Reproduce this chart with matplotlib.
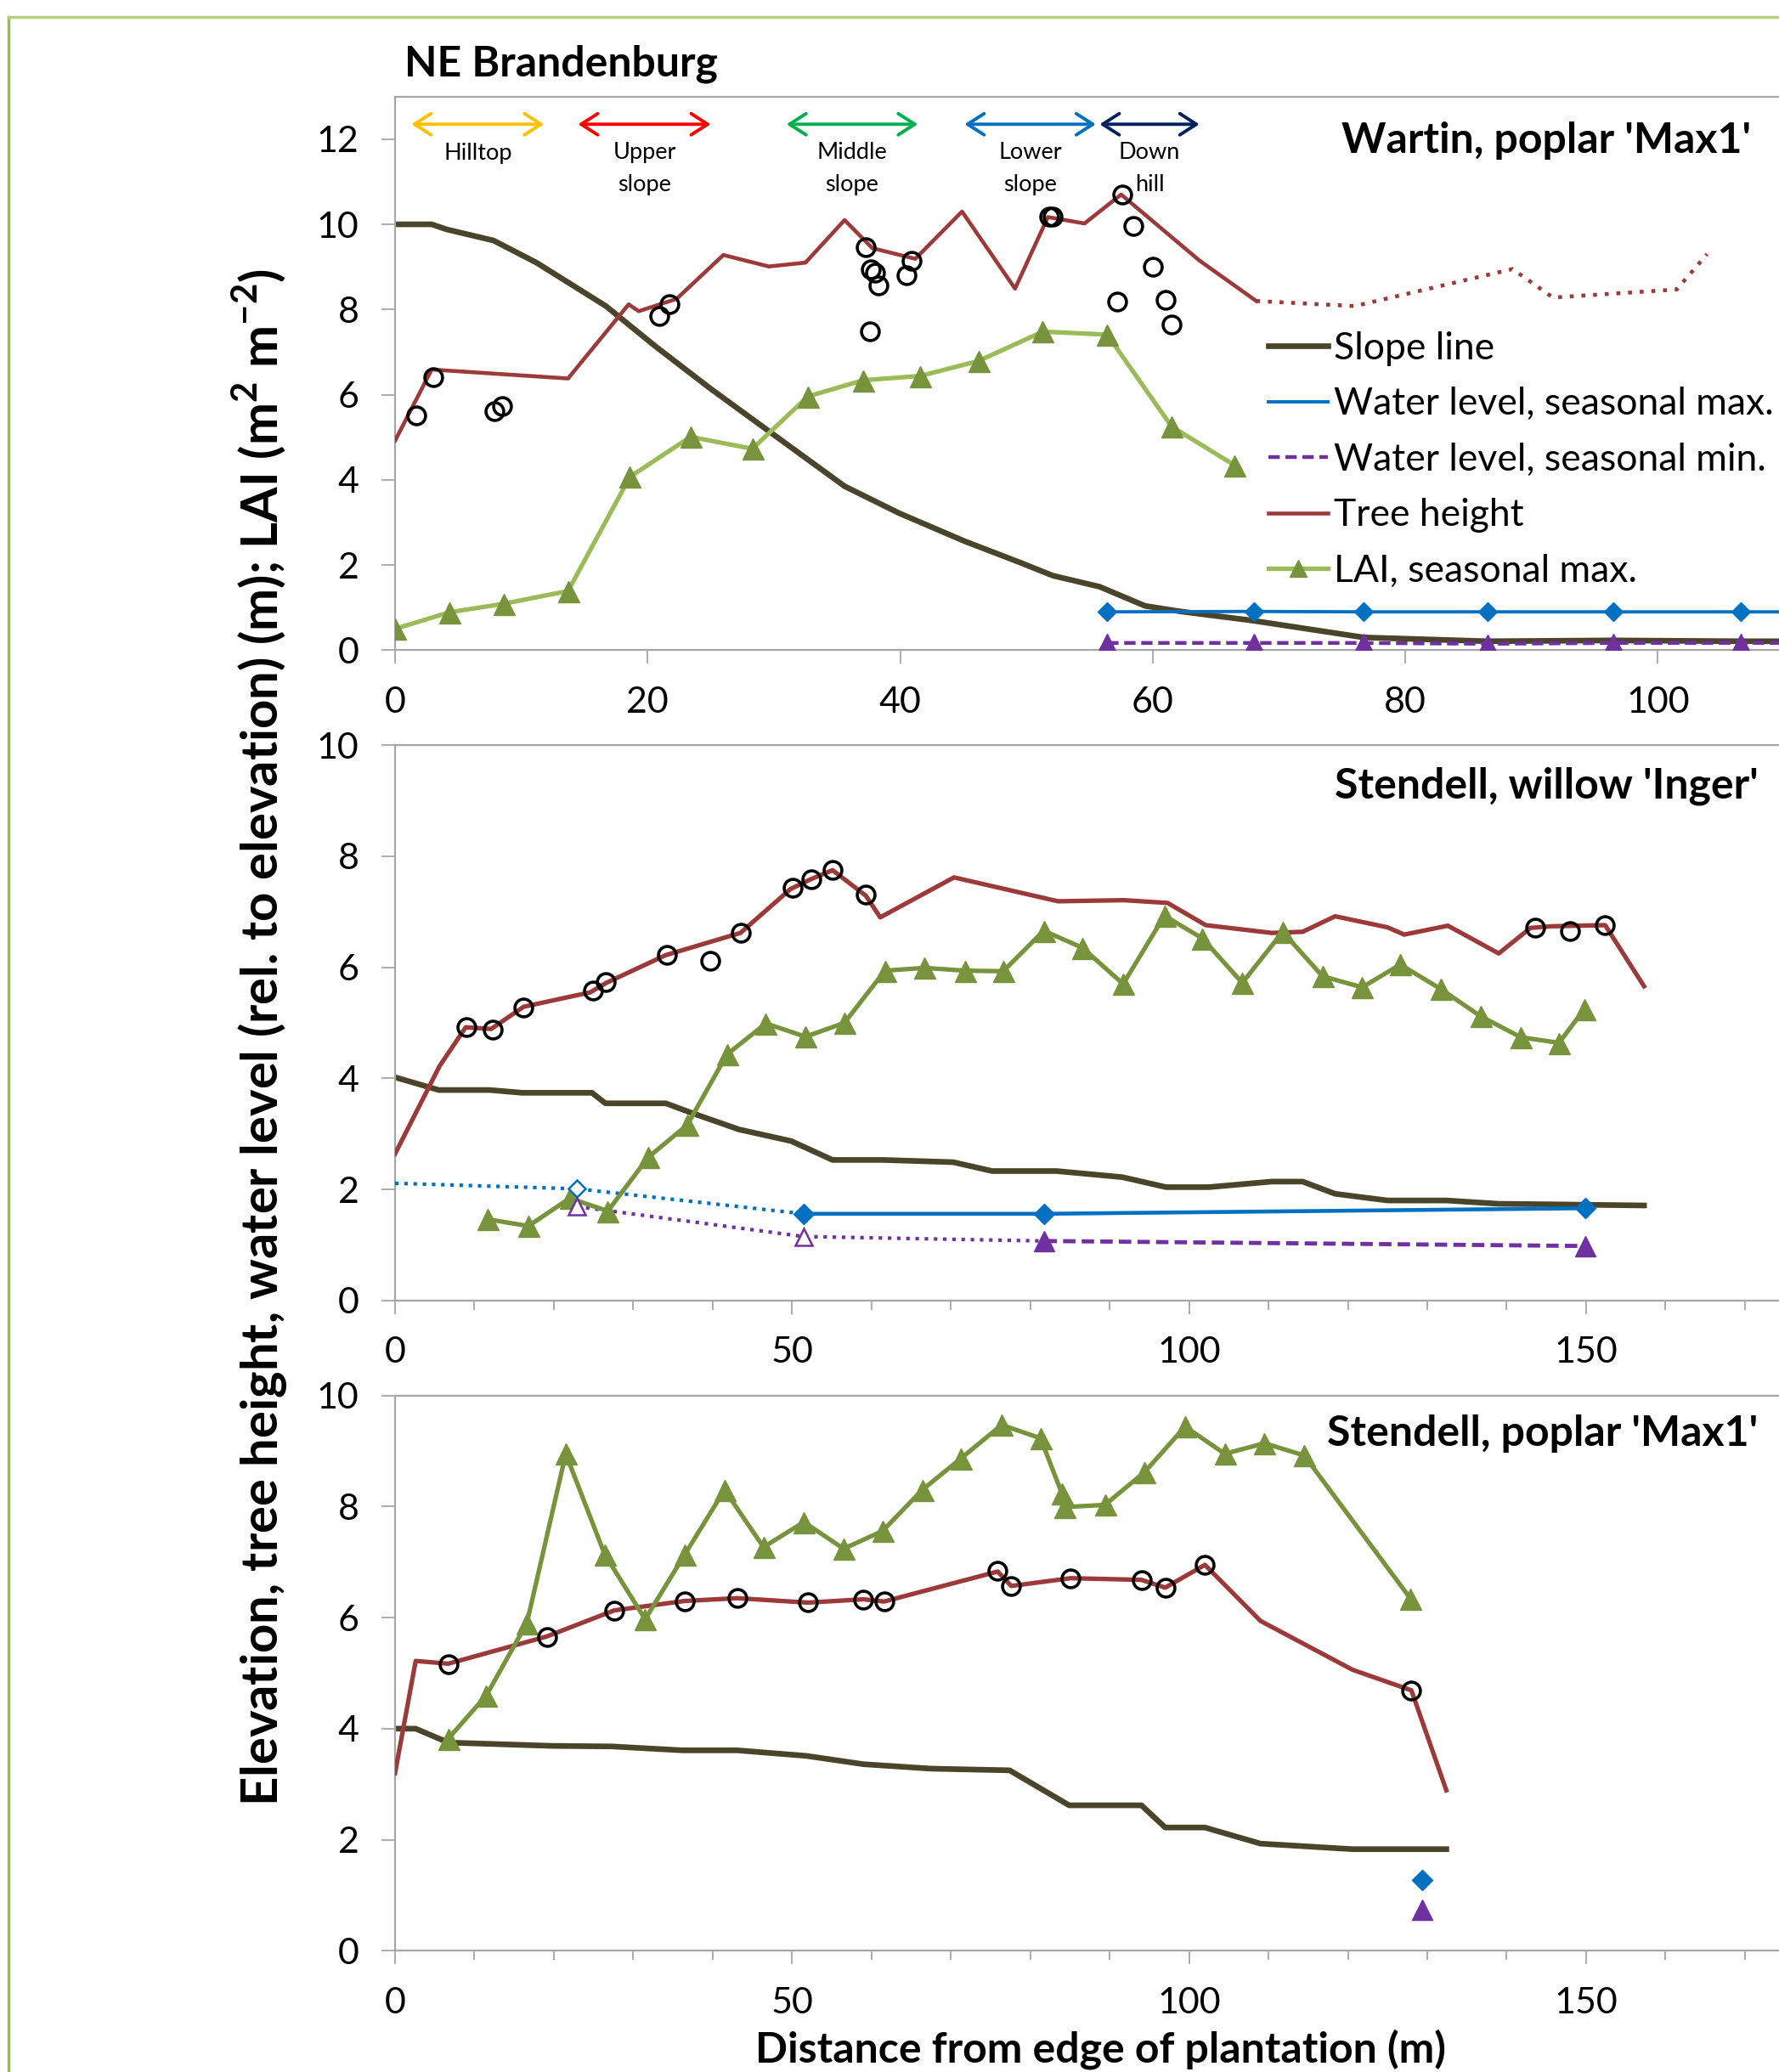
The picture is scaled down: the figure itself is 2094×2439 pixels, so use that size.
import matplotlib
matplotlib.use("Agg")
import matplotlib.pyplot as plt
from matplotlib.lines import Line2D

plt.rcParams['font.family'] = ['Lato', 'DejaVu Sans']
plt.rcParams['mathtext.fontset'] = 'custom'
plt.rcParams['mathtext.rm'] = 'Lato'
plt.rcParams['mathtext.bf'] = 'Lato:bold'

# ---------------- Wartin, poplar 'Max1' ----------------
slope1_x = [0, 2.9, 4.1, 7.8, 11.2, 16.7, 20.6, 24.9, 29.2, 35.6, 39.9, 45.1, 49.4, 52.1, 55.8,
            59.4, 62.2, 67.8, 76.7, 86.5, 96.5, 106.6, 112]
slope1_y = [10.0, 10.0, 9.88, 9.62, 9.10, 8.08, 7.14, 6.16, 5.23, 3.85, 3.22, 2.56, 2.07, 1.75, 1.49,
            1.04, 0.91, 0.70, 0.30, 0.21, 0.23, 0.21, 0.21]

height1_x = [0, 2.9, 13.7, 18.5, 19.3, 22.3, 26.0, 29.6, 32.5, 35.6, 37.8, 41.2, 44.9, 49.1, 51.7,
             54.6, 57.5, 63.7, 68.2]
height1_y = [4.92, 6.59, 6.38, 8.12, 7.96, 8.25, 9.28, 9.01, 9.10, 10.10, 9.44, 9.19, 10.30, 8.49, 10.17,
             10.02, 10.70, 9.15, 8.20]
# extrapolated part (dotted)
height1b_x = [68.2, 76.0, 88.5, 91.7, 101.5, 103.9]
height1b_y = [8.20, 8.08, 8.95, 8.28, 8.47, 9.30]

trees1_x = [1.7, 3.0, 7.9, 8.5, 20.9, 21.7, 37.3, 37.7, 38.0, 38.3, 37.6, 40.5, 40.9, 51.8, 52.1,
            57.6, 58.5, 60.0, 57.2, 61.0, 61.5]
trees1_y = [5.52, 6.41, 5.61, 5.74, 7.84, 8.12, 9.47, 8.94, 8.86, 8.57, 7.48, 8.81, 9.15, 10.19, 10.19,
            10.69, 9.96, 9.01, 8.19, 8.23, 7.64]

lai1_x = [0, 4.3, 8.6, 13.7, 18.6, 23.4, 28.3, 32.7, 37.1, 41.6, 46.2, 51.3, 56.4, 61.5, 66.5]
lai1_y = [0.50, 0.89, 1.09, 1.39, 4.07, 5.01, 4.73, 5.96, 6.34, 6.44, 6.79, 7.48, 7.41, 5.25, 4.34]

wl1_x = [56.4, 68.0, 76.7, 86.5, 96.5, 106.6, 112]
wlmax1_y = [0.90, 0.91, 0.90, 0.90, 0.90, 0.90, 0.90]
wlmin1_y = [0.17, 0.17, 0.17, 0.15, 0.17, 0.17, 0.17]

zones = ['Hilltop', 'Upper\nslope', 'Middle\nslope', 'Lower\nslope', 'Down\nhill']
zone_start = [1.3, 14.5, 31.0, 45.1, 55.8]
zone_end = [11.8, 25.0, 41.4, 55.5, 63.7]
zone_colors = ['#ffc000', '#ff0000', '#00b050', '#0070c0', '#002060']

# ---------------- Stendell, willow 'Inger' ----------------
slope2_x = [0, 5.5, 11.9, 16.0, 24.8, 26.5, 34.1, 37.5, 43.3, 49.9, 55.1, 61.4, 70.3, 75.2, 83.3,
            91.6, 97.1, 102.5, 110.4, 114.3, 118.4, 125.0, 132.4, 139.0, 145.7, 157.3]
slope2_y = [4.02, 3.79, 3.79, 3.74, 3.74, 3.55, 3.55, 3.37, 3.08, 2.87, 2.53, 2.53, 2.49, 2.33, 2.33,
            2.22, 2.04, 2.04, 2.14, 2.14, 1.92, 1.80, 1.80, 1.74, 1.73, 1.71]

height2_x = [0, 5.6, 8.9, 12.1, 16.2, 24.6, 26.6, 34.1, 43.5, 49.8, 52.4, 55.1, 59.3, 61.1, 70.4,
             83.5, 91.8, 97.3, 102.1, 110.4, 114.3, 118.4, 125.0, 127.1, 132.6, 139.0, 143.0, 145.7,
             152.4, 157.3]
height2_y = [2.64, 4.22, 4.92, 4.89, 5.29, 5.55, 5.72, 6.22, 6.62, 7.41, 7.59, 7.75, 7.29, 6.90, 7.62,
             7.19, 7.21, 7.16, 6.76, 6.62, 6.64, 6.92, 6.72, 6.59, 6.75, 6.25, 6.71, 6.74,
             6.76, 5.66]

trees2_x = [9.0, 12.3, 16.2, 24.9, 26.5, 34.2, 39.7, 43.5, 50.1, 52.4, 55.1, 59.3, 143.6, 148.0, 152.4]
trees2_y = [4.93, 4.88, 5.28, 5.58, 5.74, 6.22, 6.12, 6.62, 7.43, 7.59, 7.76, 7.31, 6.71, 6.66, 6.76]

lai2_x = [11.7, 16.8, 22.0, 26.8, 31.9, 36.8, 41.8, 46.7, 51.7, 56.6, 61.7, 66.7, 71.8, 76.6, 81.7,
          86.6, 91.7, 96.9, 101.7, 106.7, 111.8, 116.8, 121.8, 126.6, 131.7, 136.7, 141.8, 146.6, 149.8]
lai2_y = [1.46, 1.34, 1.84, 1.61, 2.58, 3.16, 4.43, 4.99, 4.75, 5.00, 5.94, 5.99, 5.94, 5.93, 6.66,
          6.35, 5.70, 6.93, 6.52, 5.72, 6.64, 5.84, 5.64, 6.05, 5.61, 5.12, 4.74, 4.64, 5.25]

# water levels: dotted = estimated, solid/dashed = measured
wlmax2a_x = [0, 22.9, 51.5]
wlmax2a_y = [2.11, 2.01, 1.56]
wlmax2b_x = [51.5, 81.8, 149.9]
wlmax2b_y = [1.56, 1.56, 1.66]
wlmin2a_x = [22.9, 51.5, 81.8]
wlmin2a_y = [1.69, 1.15, 1.07]
wlmin2b_x = [81.8, 149.9]
wlmin2b_y = [1.07, 0.98]

# ---------------- Stendell, poplar 'Max1' ----------------
slope3_x = [0, 2.6, 6.7, 19.8, 27.3, 36.2, 43.1, 51.8, 59.0, 67.5, 77.4, 84.9, 94.0, 97.0, 102.0,
            109.0, 120.6, 132.4]
slope3_y = [4.00, 4.00, 3.75, 3.69, 3.68, 3.61, 3.61, 3.51, 3.36, 3.28, 3.25, 2.62, 2.62, 2.22, 2.22,
            1.93, 1.83, 1.83]

height3_x = [0, 2.6, 6.7, 19.1, 27.6, 36.5, 43.1, 52.0, 59.0, 61.6, 75.9, 77.6, 85.1, 94.0, 97.0,
             102.0, 109.0, 120.6, 128.0, 132.4]
height3_y = [3.20, 5.22, 5.17, 5.66, 6.13, 6.30, 6.35, 6.27, 6.33, 6.29, 6.83, 6.57, 6.71, 6.68, 6.54,
             6.95, 5.94, 5.06, 4.69, 2.89]

trees3_x = [6.7, 19.1, 27.6, 36.5, 43.1, 52.0, 59.0, 61.6, 75.9, 77.6, 85.1, 94.0, 97.0, 102.0, 128.0]
trees3_y = [5.16, 5.65, 6.13, 6.29, 6.35, 6.27, 6.33, 6.29, 6.84, 6.57, 6.71, 6.68, 6.54, 6.95, 4.69]

lai3_x = [6.7, 11.5, 16.6, 21.5, 26.4, 31.5, 36.5, 41.5, 46.4, 51.5, 56.5, 61.4, 66.4, 71.3, 76.4,
          81.3, 84.0, 84.3, 89.4, 94.4, 99.5, 104.5, 109.5, 114.5, 127.9]
lai3_y = [3.82, 4.60, 5.90, 8.95, 7.14, 5.97, 7.14, 8.30, 7.27, 7.72, 7.24, 7.56, 8.30, 8.87, 9.47,
          9.23, 8.23, 7.99, 8.03, 8.62, 9.44, 8.95, 9.14, 8.92, 6.34]

wl3_x = [129.4]
wlmax3_y = [1.27]
wlmin3_y = [0.74]

# colours
c_slope = '#4a452a'
c_height = '#9b3a38'
c_lai = '#77933c'
c_lai_light = '#9bbb59'
c_wmax = '#0070c0'
c_wmin = '#7030a0'
c_axis = '#a6a6a6'

fig = plt.figure(figsize=(20.94, 24.39), dpi=100)
left = 465 / 2094
width = 1 - left
ax1 = fig.add_axes([left, 0.6862, width, 0.2672])
ax2 = fig.add_axes([left, 0.3724, width, 0.2679])
ax3 = fig.add_axes([left, 0.0585, width, 0.2680])


def style_axis(ax, xmax, ymax, major, minor):
    ax.set_xlim(0, xmax)
    ax.set_ylim(0, ymax)
    ax.set_xticks(range(0, int(xmax) + 1, major))
    if minor:
        ax.set_xticks(range(0, int(xmax) + 1, minor), minor=True)
    ax.set_yticks(range(0, int(ymax) + 1, 2))
    ax.spines['right'].set_visible(False)
    for s in ['left', 'bottom', 'top']:
        ax.spines[s].set_color(c_axis)
        ax.spines[s].set_linewidth(1.6)
    ax.tick_params(axis='both', which='major', direction='out', length=11.5, width=1.3,
                   color=c_axis, labelsize=31, pad=19)
    ax.tick_params(axis='x', which='minor', direction='out', length=8, width=1.3, color=c_axis)


style_axis(ax1, 109.6, 13, 20, None)
style_axis(ax2, 174.3, 10, 50, 10)
style_axis(ax3, 174.3, 10, 50, 10)

lai_kw = dict(marker='^', ms=18, mfc=c_lai, mec=c_lai, zorder=4)
tree_kw = dict(ls='none', marker='o', ms=15, mfc='none', mec='black', mew=2.6, zorder=6)

# panel 1
ax1.plot(slope1_x, slope1_y, color=c_slope, lw=4.8, zorder=2)
ax1.plot(wl1_x, wlmax1_y, color=c_wmax, lw=2.8, marker='D', ms=11, zorder=3)
ax1.plot(wl1_x, wlmin1_y, color=c_wmin, lw=3.2, dashes=(3, 1.5), marker='^', ms=16, zorder=3)
ax1.plot(height1_x, height1_y, color=c_height, lw=3.3, zorder=3)
ax1.plot(height1b_x, height1b_y, color=c_height, lw=3.3, ls=(0, (1, 2)), zorder=3)
ax1.plot(lai1_x, lai1_y, color=c_lai_light, lw=3.8, **lai_kw)
ax1.plot(trees1_x, trees1_y, **tree_kw)

# slope position arrows and labels
for name, x0, x1, col in zip(zones, zone_start, zone_end, zone_colors):
    ax1.annotate('', xy=(x1, 12.35), xytext=(x0, 12.35),
                 arrowprops=dict(arrowstyle='<->,head_length=0.7,head_width=0.45', color=col,
                                 lw=2.8, shrinkA=0, shrinkB=0, mutation_scale=20))
    ty = 11.31 if '\n' in name else 11.66
    ax1.text((x0 + x1) / 2, ty, name, ha='center', va='center', fontsize=19.5, linespacing=1.65)

ax1.text(0.98, 0.921, "Wartin, poplar 'Max1'", transform=ax1.transAxes, ha='right', va='center',
         fontsize=36, fontweight='bold')

handles = [
    Line2D([], [], color=c_slope, lw=4.8),
    Line2D([], [], color=c_wmax, lw=2.8),
    Line2D([], [], color=c_wmin, lw=3.2, dashes=(3, 1.5)),
    Line2D([], [], color=c_height, lw=3.3),
    Line2D([], [], color=c_lai_light, lw=3.8, marker='^', ms=15, mfc=c_lai, mec=c_lai),
]
labels = ['Slope line', 'Water level, seasonal max.', 'Water level, seasonal min.',
          'Tree height', 'LAI, seasonal max.']
ax1.legend(handles, labels, loc='center left', bbox_to_anchor=(0.631, 0.344), frameon=False,
           fontsize=32, handlelength=1.57, handletextpad=0.17, labelspacing=0.55,
           borderpad=0, borderaxespad=0)

# panel 2
ax2.plot(slope2_x, slope2_y, color=c_slope, lw=4.8, zorder=2)
ax2.plot(wlmax2a_x, wlmax2a_y, color=c_wmax, lw=3, ls=(0, (1, 1.6)), zorder=3)
ax2.plot(wlmax2a_x[1:2], wlmax2a_y[1:2], ls='none', marker='D', ms=10, mfc='white', mec=c_wmax,
         mew=1.8, zorder=5)
ax2.plot(wlmax2b_x, wlmax2b_y, color=c_wmax, lw=3.3, marker='D', ms=12, zorder=3)
ax2.plot(wlmin2a_x, wlmin2a_y, color=c_wmin, lw=3, ls=(0, (1, 1.6)), zorder=3)
ax2.plot(wlmin2a_x[:2], wlmin2a_y[:2], ls='none', marker='^', ms=14, mfc='white', mec=c_wmin,
         mew=1.8, zorder=5)
ax2.plot(wlmin2b_x, wlmin2b_y, color=c_wmin, lw=3.5, dashes=(3, 1.5), marker='^', ms=17, zorder=3)
ax2.plot(height2_x, height2_y, color=c_height, lw=3.8, zorder=3)
ax2.plot(lai2_x, lai2_y, color=c_lai, lw=3.8, **lai_kw)
ax2.plot(trees2_x, trees2_y, **tree_kw)
ax2.text(0.985, 0.926, "Stendell, willow 'Inger'", transform=ax2.transAxes, ha='right', va='center',
         fontsize=36, fontweight='bold')

# panel 3
ax3.plot(slope3_x, slope3_y, color=c_slope, lw=4.8, zorder=2)
ax3.plot(wl3_x, wlmax3_y, ls='none', marker='D', ms=12, color=c_wmax, zorder=3)
ax3.plot(wl3_x, wlmin3_y, ls='none', marker='^', ms=17, color=c_wmin, zorder=3)
ax3.plot(height3_x, height3_y, color=c_height, lw=3.8, zorder=3)
ax3.plot(lai3_x, lai3_y, color=c_lai, lw=3.8, **lai_kw)
ax3.plot(trees3_x, trees3_y, **tree_kw)
ax3.text(0.985, 0.931, "Stendell, poplar 'Max1'", transform=ax3.transAxes, ha='right', va='center',
         fontsize=36, fontweight='bold')

# figure texts
fig.text(476 / 2094, 1 - 90 / 2439, 'NE Brandenburg', ha='left', va='baseline', fontsize=36,
         fontweight='bold')
fig.text(0.146, 0.4995,
         r'Elevation, tree height, water level (rel. to elevation) (m); LAI (m$^{\mathbf{2}}$ m$^{\mathbf{-2}}$)',
         rotation=90, ha='center', va='center', fontsize=43, fontweight='bold')
fig.text(0.6185, 1 - 2428 / 2439, 'Distance from edge of plantation (m)', ha='center', va='baseline',
         fontsize=36, fontweight='bold')

# light green frame around the figure
fig.add_artist(Line2D([0.0048, 0.0048], [0, 0.9918], transform=fig.transFigure, color='#9bbb59', lw=2.5))
fig.add_artist(Line2D([0.0048, 1], [0.9918, 0.9918], transform=fig.transFigure, color='#b5d17f', lw=2.5))

fig.savefig('out.png', dpi=100)
